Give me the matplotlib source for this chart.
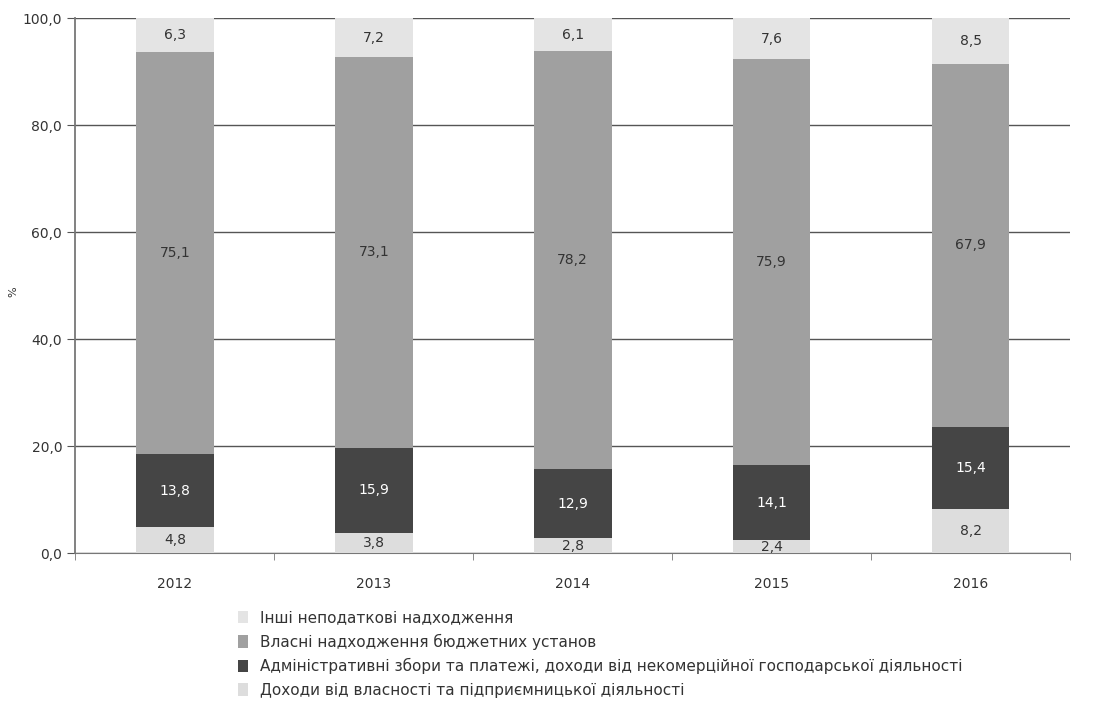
import matplotlib.pyplot as plt
from matplotlib.patches import Patch
import numpy as np

plt.rcParams['font.family'] = ['DejaVu Sans']

years = ['2012', '2013', '2014', '2015', '2016']
property_income = [4.8, 3.8, 2.8, 2.4, 8.2]
admin_fees = [13.8, 15.9, 12.9, 14.1, 15.4]
own_receipts = [75.1, 73.1, 78.2, 75.9, 67.9]
other_nontax = [6.3, 7.2, 6.1, 7.6, 8.5]

labels = ['Інші неподаткові надходження',
          'Власні надходження бюджетних установ',
          'Адміністративні збори та платежі, доходи від некомерційної господарської діяльності',
          'Доходи від власності та підприємницької діяльності']

c_other = '#e4e4e4'
c_own = '#a0a0a0'
c_admin = '#454545'
c_prop = '#dddddd'

fig = plt.figure(figsize=(10.93, 7.11), dpi=100)
ax = fig.add_axes([0.069, 0.222, 0.91, 0.752])

x = np.arange(len(years))
w = 0.39
series = [(property_income, c_prop, '#333333'),
          (admin_fees, c_admin, 'white'),
          (own_receipts, c_own, '#333333'),
          (other_nontax, c_other, '#333333')]
bottom = np.zeros(len(years))
for vals, col, tcol in series:
    ax.bar(x, vals, w, bottom=bottom, color=col, zorder=3)
    for xi, b, v in zip(x, bottom, vals):
        ax.text(xi, b + v / 2, f'{v:.1f}'.replace('.', ','), ha='center', va='center',
                fontsize=10, color=tcol, zorder=4)
    bottom += np.array(vals)

ax.set_xlim(-0.5, len(years) - 0.5)
ax.set_ylim(0, 100)
ax.set_yticks(np.arange(0, 101, 20))
ax.set_yticklabels([f'{v:.1f}'.replace('.', ',') for v in np.arange(0, 101, 20)], fontsize=10, color='#333333')
ax.set_xticks(x)
ax.set_xticklabels(years, fontsize=10, color='#333333')
ax.set_xticks(np.arange(-0.5, len(years)), minor=True)
ax.tick_params(axis='x', which='major', length=0, pad=17)
ax.tick_params(axis='x', which='minor', length=5, color='#777777')
ax.tick_params(axis='y', length=6, color='#555555')
ax.yaxis.grid(True, color='#555555', linewidth=1, zorder=0)
for s in ['top', 'right']:
    ax.spines[s].set_visible(False)
ax.spines['left'].set_color('#777777')
ax.spines['left'].set_linewidth(1.3)
ax.spines['bottom'].set_color('#777777')
fig.text(0.012, 0.59, '%', fontsize=8, color='#333333', rotation=90, ha='center', va='center')

handles = [Patch(facecolor=c, edgecolor='none') for c in [c_other, c_own, c_admin, c_prop]]
fig.legend(handles, labels, loc='upper left', bbox_to_anchor=(0.205, 0.161), frameon=False,
           fontsize=11, handlelength=0.65, handleheight=0.85, labelspacing=0.55,
           handletextpad=0.8, labelcolor='#333333')

plt.savefig('out.png')
